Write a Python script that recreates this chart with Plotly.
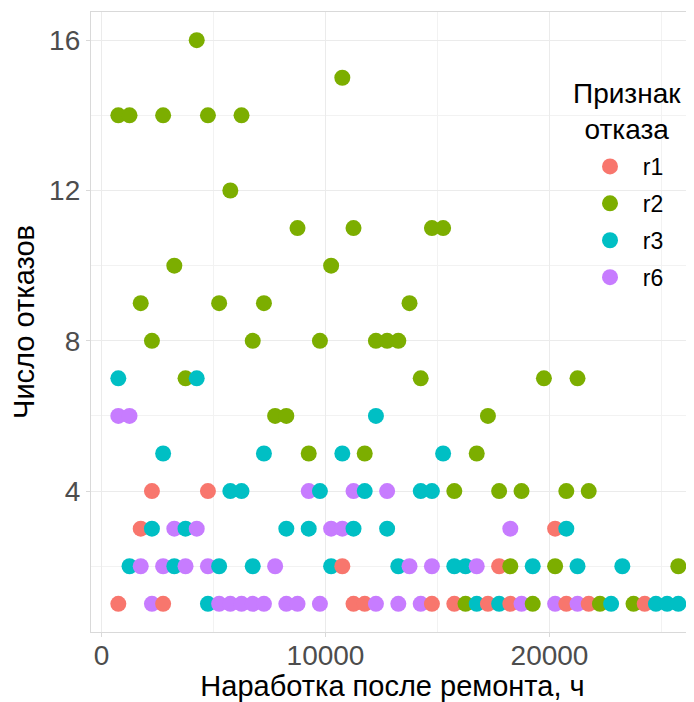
import plotly.graph_objects as go

categories = ["r1", "r2", "r3", "r6"]
colors = ["#F8766D", "#7CAE00", "#00BFC4", "#C77CFF"]

r1_x = [2250, 4750, 1750, 20250, 10750, 17750, 750, 2750, 11250, 11750, 14750,
        15750, 17250, 18250, 20750, 21750, 24250]
r1_y = [4, 4, 3, 3, 2, 2, 1, 1, 1, 1, 1, 1, 1, 1, 1, 1, 1]

r2_x = [4250, 10750, 750, 1250, 2750, 4750, 6250, 5750, 8750, 11250, 14750, 15250,
        3250, 10250, 1750, 5250, 7250, 13750, 2250, 6750, 9750, 12250, 12750, 13250,
        3750, 14250, 19750, 21250, 7750, 8250, 17250, 9250, 11750, 16750,
        15750, 17750, 18750, 20750, 21750, 18250, 20250, 25750,
        16250, 19250, 22250, 23750]
r2_y = [16, 15, 14, 14, 14, 14, 14, 12, 11, 11, 11, 11,
        10, 10, 9, 9, 9, 9, 8, 8, 8, 8, 8, 8,
        7, 7, 7, 7, 6, 6, 6, 5, 5, 5,
        4, 4, 4, 4, 4, 2, 2, 2,
        1, 1, 1, 1]

r3_x = [750, 4250, 12250, 2750, 7250, 10750, 15250, 5750, 6250, 9750, 11750, 14250, 14750,
        2250, 3750, 8250, 9250, 11250, 12750, 20750,
        1250, 3250, 5250, 6750, 10250, 13250, 15750, 16250, 19250, 21250, 23250,
        4750, 16750, 17750, 22750, 24750, 25250, 25750]
r3_y = [7, 7, 6, 5, 5, 5, 5, 4, 4, 4, 4, 4, 4,
        3, 3, 3, 3, 3, 3, 3,
        2, 2, 2, 2, 2, 2, 2, 2, 2, 2, 2,
        1, 1, 1, 1, 1, 1, 1]

r6_x = [750, 1250, 9250, 11250, 12750, 3250, 4250, 10250, 10750, 18250,
        1750, 2750, 3750, 4750, 7750, 13750, 14750, 16750,
        2250, 5250, 5750, 6250, 6750, 7250, 8250, 8750, 9750, 12250, 13250, 14250,
        18750, 20250, 21250]
r6_y = [6, 6, 4, 4, 4, 3, 3, 3, 3, 3,
        2, 2, 2, 2, 2, 2, 2, 2,
        1, 1, 1, 1, 1, 1, 1, 1, 1, 1, 1, 1,
        1, 1, 1]

x_ticks = [0, 10000, 20000]
y_ticks = [4, 8, 12, 16]
x_title = "Наработка после ремонта, ч"
y_title = "Число отказов"
legend_title = "Признак<br>отказа"

series = {"r1": (r1_x, r1_y), "r2": (r2_x, r2_y), "r3": (r3_x, r3_y), "r6": (r6_x, r6_y)}
cmap = dict(zip(categories, colors))

# combine, draw in order of x (later points drawn on top)
pts = []
for cat in categories:
    xs, ys = series[cat]
    for xv, yv in zip(xs, ys):
        pts.append((xv, yv, cat))
pts.sort(key=lambda p: p[0])

fig = go.Figure()
fig.add_trace(go.Scatter(
    x=[p[0] for p in pts], y=[p[1] for p in pts], mode="markers",
    marker=dict(size=16, color=[cmap[p[2]] for p in pts], line=dict(width=0)),
    showlegend=False, hoverinfo="x+y"))

for i, cat in enumerate(categories):
    fig.add_trace(go.Scatter(
        x=[None], y=[None], mode="markers", name="\u00a0\u00a0" + cat,
        marker=dict(size=16, color=colors[i], line=dict(width=0)),
        legendgroup=cat, showlegend=True))

grid_col = "#EBEBEB"
border_col = "#D9D9D9"
fig.update_layout(
    width=686, height=694,
    margin=dict(l=83, r=0, t=4, b=70),
    paper_bgcolor="white", plot_bgcolor="white",
    font=dict(family="Liberation Sans, Arial, sans-serif", size=20, color="black"),
    xaxis=dict(
        range=[-470, 26450], tickvals=x_ticks, ticktext=[str(v) for v in x_ticks],
        showgrid=True, gridcolor=grid_col, gridwidth=1.2,
        minor=dict(tickvals=[5000, 15000, 25000], showgrid=True, gridcolor="#F2F2F2", gridwidth=1),
        showline=True, linecolor=border_col, linewidth=1.3, mirror=True,
        ticks="outside", ticklen=4, tickcolor=border_col, tickwidth=1,
        tickfont=dict(size=28, color="#4D4D4D"), ticklabelstandoff=-6,
        title=dict(text=x_title, font=dict(size=29, color="black"), standoff=2),
        zeroline=False, automargin=False,
    ),
    yaxis=dict(
        range=[0.25, 16.75], tickvals=y_ticks,
        showgrid=True, gridcolor=grid_col, gridwidth=1.2,
        minor=dict(tickvals=[2, 6, 10, 14], showgrid=True, gridcolor="#F2F2F2", gridwidth=1),
        showline=True, linecolor=border_col, linewidth=1.3, mirror=False,
        ticks="outside", ticklen=4, tickcolor=border_col, tickwidth=1,
        tickfont=dict(size=28, color="#4D4D4D"),
        title=dict(text=y_title, font=dict(size=29, color="black"), standoff=6),
        zeroline=False, automargin=False,
    ),
    legend=dict(
        x=(560 - 91) / 603, y=(632 - 145) / 620, xanchor="left", yanchor="top",
        bgcolor="rgba(255,255,255,0)", borderwidth=0,
        font=dict(size=23, color="black"),
        tracegroupgap=4, traceorder="grouped", indentation=30,
    ),
    shapes=[dict(type="rect", xref="paper", yref="paper",
                 x0=(560 - 91) / 603, x1=1.0, y0=(632 - 303) / 620, y1=(632 - 65) / 620,
                 fillcolor="white", line=dict(width=0), layer="between")],
    annotations=[dict(text=legend_title, xref="paper", yref="paper",
                      x=(627 - 91) / 603, y=(632 - 111.5) / 620,
                      xanchor="center", yanchor="middle", align="center", showarrow=False,
                      font=dict(size=28, color="black"))],
)

fig.write_html("out.html")
